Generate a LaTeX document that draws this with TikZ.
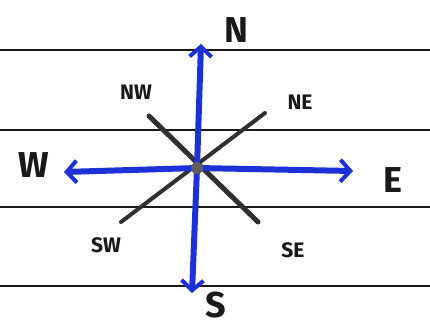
\documentclass[tikz,border=0pt]{standalone}
\usepackage{fontspec}
\setmainfont{Fira Sans}
\usetikzlibrary{arrows.meta}
\definecolor{pen}{RGB}{28,50,215}
\definecolor{ink}{RGB}{25,25,25}
\tikzset{
  ruled/.style={line width=2.5pt, ink},
  axis/.style={line width=6pt, pen, line cap=round, -{Straight Barb[length=10pt,width=22pt,line width=4pt]}},
  diag/.style={line width=5pt, ink!90, line cap=round},
  big/.style={font=\fontsize{36}{36}\selectfont\bfseries, ink, inner sep=0pt},
  small/.style={font=\fontsize{21}{21}\selectfont\bfseries, ink, inner sep=0pt},
}
\begin{document}
\begin{tikzpicture}[x=1pt,y=-1pt]
\useasboundingbox (0,0) rectangle (430,327);
\fill[white] (0,0) rectangle (430,327);
% ruled paper lines
\foreach \yy/\nm in {50/a,130/b,207/c,286/d} {
  \coordinate (L\nm) at (0,\yy);
  \coordinate (R\nm) at (430,\yy);
  \draw[ruled] (L\nm) -- (R\nm);
}
% points
\coordinate (C) at (197,168);
\coordinate (Ntip) at (201,44);
\coordinate (Stip) at (192,293);
\coordinate (Wtip) at (64,172);
\coordinate (Etip) at (353,171);
\coordinate (NWend) at (149,116);
\coordinate (SEend) at (258,222);
\coordinate (NEend) at (265,113);
\coordinate (SWend) at (121,222);
% diagonals
\draw[diag] (NWend) -- (SEend);
\draw[diag, line width=4pt] (NEend) -- (SWend);
% axes
\draw[axis] (C) -- (Ntip);
\draw[axis] (C) -- (Stip);
\draw[axis] (C) -- (Wtip);
\draw[axis] (C) -- (Etip);
\fill[ink!70] (C) circle (6pt);
% labels
\node[big] (N) at (236,30) {N};
\node[big] (S) at (216,305) {S};
\node[big] (W) at (34,165) {W};
\node[big] (E) at (393,180) {E};
\node[small] (NW) at (136,92) {NW};
\node[small] (NE) at (300,102) {NE};
\node[small] (SW) at (106,245) {SW};
\node[small] (SE) at (293,250) {SE};
\end{tikzpicture}
\end{document}
